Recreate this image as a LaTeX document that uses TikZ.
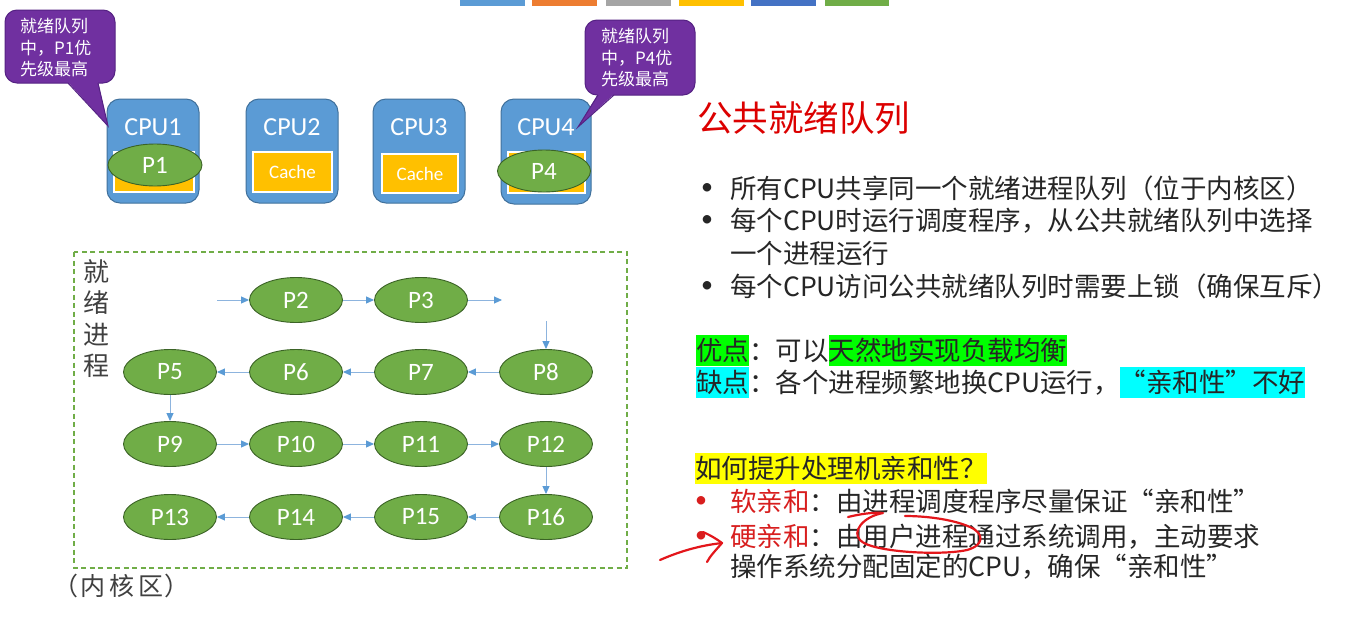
\documentclass[tikz,border=0pt]{standalone}
\usepackage{fontspec}
\setmainfont{Noto Sans CJK SC}
\newfontfamily\lat{Carlito}
\usetikzlibrary{shapes.geometric,arrows.meta}
\definecolor{cpufill}{HTML}{5B9BD5}
\definecolor{cpuborder}{HTML}{41719C}
\definecolor{cachefill}{HTML}{FFC000}
\definecolor{pfill}{HTML}{70AD47}
\definecolor{pborder}{HTML}{3B6326}
\definecolor{callfill}{HTML}{7030A0}
\definecolor{callborder}{HTML}{552283}
\definecolor{arrowc}{HTML}{5B9BD5}
\definecolor{linec}{HTML}{8DB4DE}
\definecolor{textc}{HTML}{262626}
\definecolor{labc}{HTML}{404040}
\definecolor{redtext}{HTML}{D81E1E}
\definecolor{titlered}{HTML}{DC0000}
\definecolor{inkred}{HTML}{E3161B}
\definecolor{hlgreen}{HTML}{00FF00}
\definecolor{hlcyan}{HTML}{00FFFF}
\definecolor{hlyellow}{HTML}{FFFF00}
\definecolor{barA}{HTML}{5B9BD5}
\definecolor{barB}{HTML}{ED7D31}
\definecolor{barC}{HTML}{A5A5A5}
\definecolor{barD}{HTML}{FFC000}
\definecolor{barE}{HTML}{4472C4}
\definecolor{barF}{HTML}{70AD47}
\definecolor{dashg}{HTML}{70AD47}
\newcommand\hlbx[2]{{\setlength\fboxsep{0pt}\colorbox{#1}{\rule[-6pt]{0pt}{31.5pt}#2}}}
\begin{document}
\begin{tikzpicture}[x=1pt,y=-1pt,
  cpubox/.style={draw=cpuborder,fill=cpufill,line width=1pt,rounded corners=13pt,inner sep=0,minimum width=92pt,minimum height=104pt},
  cpulab/.style={text=white,font=\lat\fontsize{26}{30}\selectfont,inner sep=0},
  cachebox/.style={draw=white,fill=cachefill,line width=2pt,inner sep=0,text=white,font=\lat\fontsize{19}{22}\selectfont},
  proc/.style={ellipse,draw=pborder,fill=pfill,line width=0.9pt,minimum width=93pt,minimum height=45pt,inner sep=0,text=white,font=\lat\fontsize{25}{28}\selectfont},
  link/.style={draw=linec,line width=0.9pt,-{Triangle[length=8pt,width=7pt,color=arrowc]}},
  callrect/.style={fill=callfill,draw=callborder,line width=1pt,rounded corners=12pt},
  calltxt/.style={text=white,align=left,inner sep=0,anchor=north west,font=\fontsize{17}{21.5}\selectfont},
  txt/.style={anchor=base west,inner sep=0,text=textc,font=\fontsize{26.5}{30}\selectfont},
  bul/.style={inner sep=0,font=\lat\fontsize{24}{28}\selectfont},
  ink/.style={draw=inkred,line width=2.2pt,line cap=round,line join=round}]
\useasboundingbox (0,0) rectangle (1360,619);
\fill[white] (0,0) rectangle (1360,619);
% top colour bars
\fill[barA] (460,0) rectangle (525,6);
\fill[barB] (532,0) rectangle (597,6);
\fill[barC] (606,0) rectangle (671,6);
\fill[barD] (679,0) rectangle (744,6);
\fill[barE] (751,0) rectangle (816,6);
\fill[barF] (825,0) rectangle (889,6);
% CPU boxes
\node[cpubox] (cpu1) at (153,151) {};
\node[cpubox] (cpu2) at (292,151) {};
\node[cpubox] (cpu3) at (419,151) {};
\node[cpubox,minimum width=90pt,minimum height=105pt] (cpu4) at (546,151.5) {};
\node[cpulab] (l1) at (153,127) {CPU1};
\node[cpulab] (l2) at (292,127) {CPU2};
\node[cpulab] (l3) at (419,127) {CPU3};
\node[cpulab] (l4) at (546,127) {CPU4};
\node[cachebox,minimum width=80pt,minimum height=40pt] (c1) at (154,172) {};
\node[cachebox,minimum width=79pt,minimum height=40pt] (c2) at (292.5,172) {Cache};
\node[cachebox,minimum width=76pt,minimum height=39pt] (c3) at (420,173.5) {Cache};
\node[cachebox,minimum width=77pt,minimum height=41pt] (c4) at (546.5,172.5) {};
\node[proc,minimum width=94pt,minimum height=42pt] (p1) at (155,165) {P1};
\node[proc,minimum width=93pt,minimum height=42pt] (p4) at (544,171) {P4};
% callout 1
\path[callrect] (5,10) rectangle (115,83);
\fill[callfill] (68,82) -- (98,82) -- (108,126) -- cycle;
\draw[callborder,line width=1pt] (68,83) -- (108,126) -- (98,83);
\node[calltxt] (k1) at (20,18) {就绪队列\\中，P1优\\先级最高};
% callout 2
\path[callrect] (585,20) rectangle (695,95);
\fill[callfill] (598,94) -- (614,94) -- (578,127) -- cycle;
\draw[callborder,line width=1pt] (598,95) -- (578,127) -- (614,95);
\node[calltxt] (k2) at (601,28) {就绪队列\\中，P4优\\先级最高};
% kernel region
\draw[dashg,line width=1.2pt,dash pattern=on 5pt off 3.5pt] (74,252) rectangle (627,568);
\node[inner sep=0,text=labc,align=center,font=\fontsize{26}{31.5}\selectfont,anchor=north] (rq) at (96,259) {就\\绪\\进\\程};
\node[inner sep=0,text=labc,anchor=west,font=\fontsize{25}{29}\selectfont] (kr) at (53,586) {（\kern2pt 内\kern4pt 核\kern4pt 区\kern1pt ）};
% ready processes
\node[proc] (p2) at (296,300) {P2};
\node[proc] (p3) at (421,300) {P3};
\node[proc] (p5) at (170,372) {P5};
\node[proc] (p6) at (296,372) {P6};
\node[proc] (p7) at (421,372) {P7};
\node[proc] (p8) at (546,372) {P8};
\node[proc] (p9) at (170,444) {P9};
\node[proc] (p10) at (296,444) {P10};
\node[proc] (p11) at (421,444) {P11};
\node[proc] (p12) at (546,444) {P12};
\node[proc] (p13) at (170,517) {P13};
\node[proc] (p14) at (296,517) {P14};
\node[proc] (p15) at (421,517) {P15};
\node[proc] (p16) at (546,517) {P16};
\coordinate (in2) at (217,300);
\coordinate (out3) at (502,300);
\coordinate (top8) at (546,321);
\draw[link] (in2) -- (p2);
\draw[link] (p2) -- (p3);
\draw[link] (p3) -- (out3);
\draw[link] (top8) -- (p8);
\draw[link] (p8) -- (p7);
\draw[link] (p7) -- (p6);
\draw[link] (p6) -- (p5);
\draw[link] (p5) -- (p9);
\draw[link] (p9) -- (p10);
\draw[link] (p10) -- (p11);
\draw[link] (p11) -- (p12);
\draw[link] (p12) -- (p16);
\draw[link] (p16) -- (p15);
\draw[link] (p15) -- (p14);
\draw[link] (p14) -- (p13);
% right text
\node[txt,text=titlered,font=\fontsize{35.5}{40}\selectfont] (title) at (697,131) {公共就绪队列};
\node[bul,text=textc] (b1) at (707,189) {•};
\node[bul,text=textc] (b2) at (707,221) {•};
\node[bul,text=textc] (b3) at (707,287) {•};
\node[txt] (t1) at (730,198) {所有CPU共享同一个就绪进程队列（位于内核区）};
\node[txt] (t2) at (730,230) {每个CPU时运行调度程序，从公共就绪队列中选择};
\node[txt] (t3) at (730,263) {一个进程运行};
\node[txt] (t4) at (730,296) {每个CPU访问公共就绪队列时需要上锁（确保互斥）};
\node[txt] (adv) at (696,360) {\hlbx{hlgreen}{优点}：可以\hlbx{hlgreen}{天然地实现负载均衡}};
\node[txt] (dis) at (696,392) {\hlbx{hlcyan}{缺点}：各个进程频繁地换CPU运行，\hlbx{hlcyan}{“亲和性”不好}};
\node[txt] (q) at (695,478) {\hlbx{hlyellow}{如何提升处理机亲和性？}};
\node[bul,text=redtext] (b4) at (701,502) {•};
\node[bul,text=redtext] (b5) at (701,537) {•};
\node[txt] (s1) at (730,511) {\textcolor{redtext}{软亲和}：由进程调度程序尽量保证“亲和性”};
\node[txt] (s2) at (730,546) {\textcolor{redtext}{硬亲和}：由用户进程通过系统调用，主动要求};
\node[txt] (s3) at (730,576) {操作系统分配固定的CPU，确保“亲和性”};
% handwriting
\draw[ink] (660,560) .. controls (685,549) and (705,545) .. (722,543);
\draw[ink] (703,532) .. controls (712,536) and (718,540) .. (722,543) .. controls (716,550) and (710,556) .. (707,562);
\draw[ink] (848,517) .. controls (860,514) and (874,512) .. (883,513)
  .. controls (862,517) and (852,532) .. (860,540)
  .. controls (870,552) and (940,556) .. (967,550)
  .. controls (985,545) and (984,533) .. (970,527)
  .. controls (952,519) and (925,516) .. (905,516);
\end{tikzpicture}
\end{document}
